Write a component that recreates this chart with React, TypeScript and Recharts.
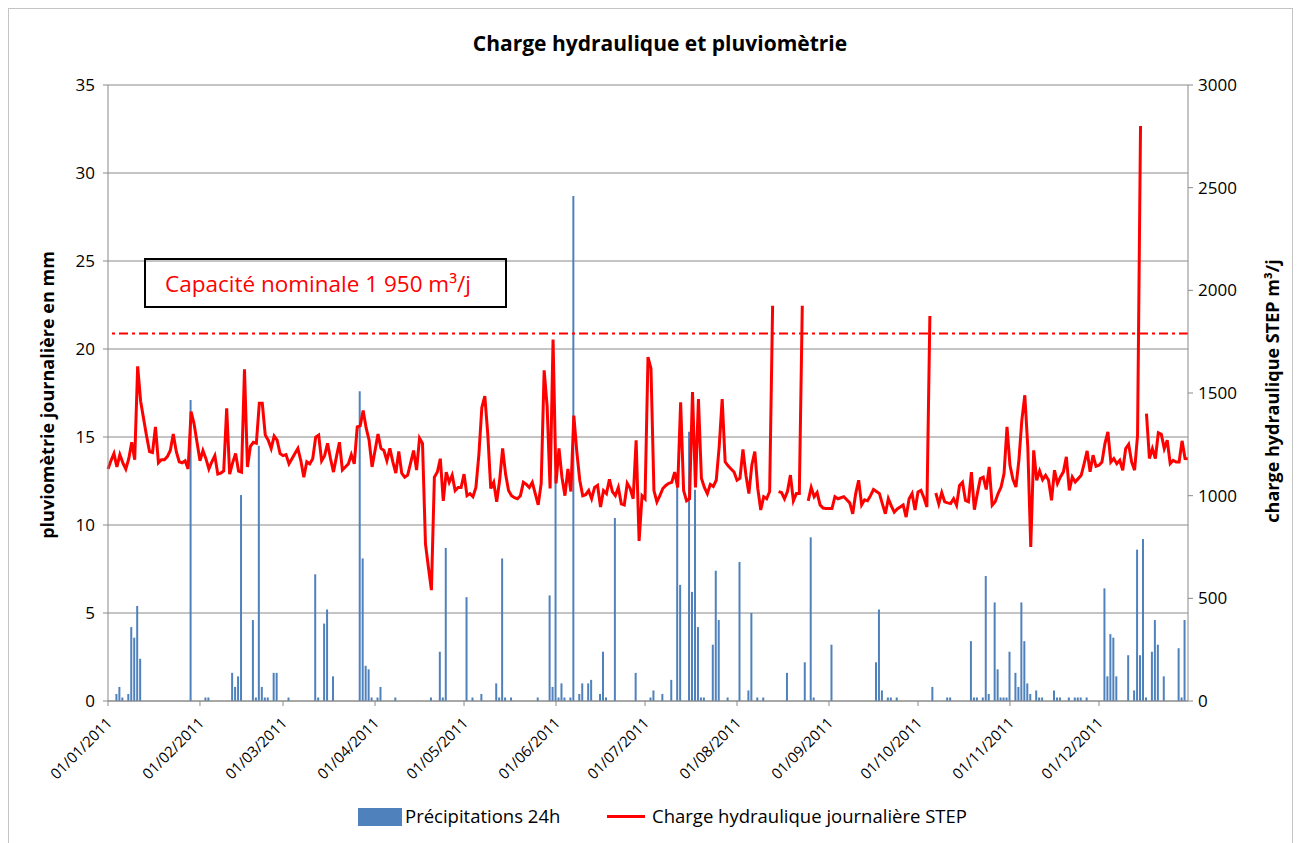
import {
  ComposedChart,
  Bar,
  Line,
  XAxis,
  YAxis,
  CartesianGrid,
  ReferenceLine,
} from "recharts";

// Daily rainfall (bars, left axis) and daily hydraulic load of the STEP
// (red line, right axis) for 2011. Day 0 = 01/01/2011.

const MONTH_TICKS = [0, 31, 59, 90, 120, 151, 181, 212, 243, 273, 304, 334];
const MONTH_LABELS = [
  "01/01/2011", "01/02/2011", "01/03/2011", "01/04/2011", "01/05/2011", "01/06/2011",
  "01/07/2011", "01/08/2011", "01/09/2011", "01/10/2011", "01/11/2011", "01/12/2011",
];

const LEFT_TICKS = [0, 5, 10, 15, 20, 25, 30, 35];
const RIGHT_TICKS = [0, 500, 1000, 1500, 2000, 2500, 3000];

// m³/j, one value per day (null = missing day)
const CHARGE: (number | null)[] = [
  1130, 1170, 1205, 1140, 1200, 1160, 1130, 1180, 1260, 1175,
  1630, 1460, 1375, 1290, 1215, 1210, 1335, 1160, 1175, 1175,
  1190, 1220, 1300, 1215, 1165, 1160, 1170, 1130, 1410, 1350,
  1260, 1170, 1220, 1180, 1130, 1165, 1195, 1105, 1110, 1120,
  1425, 1105, 1160, 1205, 1120, 1115, 1615, 1140, 1240, 1260,
  1255, 1450, 1450, 1295, 1270, 1230, 1290, 1270, 1205, 1195,
  1200, 1155, 1180, 1205, 1230, 1170, 1090, 1165, 1155, 1180,
  1285, 1295, 1170, 1195, 1255, 1180, 1115, 1190, 1260, 1125,
  1140, 1155, 1200, 1155, 1335, 1340, 1415, 1330, 1270, 1140,
  1220, 1300, 1230, 1220, 1170, 1230, 1165, 1110, 1215, 1110,
  1090, 1100, 1160, 1220, 1125, 1280, 1255, 765, 650, 540,
  1090, 1115, 1180, 975, 1115, 1065, 1100, 1025, 1040, 1040,
  1105, 1000, 1010, 995, 1040, 1200, 1430, 1485, 1300, 1035,
  1065, 970, 1075, 1230, 1105, 1025, 1000, 990, 985, 1000,
  1065, 1055, 1040, 1065, 1010, 955, 1060, 1610, 1435, 1035,
  1760, 1060, 1230, 1090, 1000, 1130, 1020, 1390, 1215, 1075,
  1000, 1005, 1025, 985, 1040, 1050, 945, 1025, 1010, 1080,
  1020, 1000, 1040, 960, 955, 1060, 1035, 985, 1270, 780,
  1000, 985, 1675, 1620, 1025, 970, 1000, 1035, 1050, 1060,
  1065, 1115, 1040, 1455, 1025, 975, 985, 1505, 1040, 1470,
  1085, 1040, 1010, 1055, 1045, 1075, 1240, 1470, 1165, 1145,
  1130, 1115, 1075, 1085, 1225, 1100, 1010, 1150, 1215, 1035,
  930, 995, 985, 1020, 1925, null, 1020, 1015, 985, 1020,
  1100, 975, 1010, 1010, 1925, null, 975, 1040, 995, 1015,
  955, 940, 938, 937, 937, 995, 985, 990, 995, 980,
  965, 912, 1010, 1075, 955, 980, 975, 1000, 1030, 1020,
  1010, 960, 912, 985, 950, 920, 935, 945, 955, 896,
  985, 1010, 930, 1018, 1026, 990, 945, 1875, null, 1013,
  960, 1015, 970, 965, 962, 985, 953, 1050, 1065, 977,
  970, 1115, 932, 1010, 1083, 1090, 1030, 1140, 953, 970,
  1010, 1042, 1107, 1335, 1148, 1080, 1042, 1172, 1368, 1489,
  1238, 750, 1221, 1075, 1120, 1078, 1099, 1075, 977, 1124,
  1059, 1091, 1116, 1189, 1026, 1091, 1067, 1083, 1099, 1156,
  1218, 1116, 1197, 1143, 1148, 1164, 1254, 1311, 1164, 1181,
  1156, 1172, 1124, 1229, 1250, 1164, 1124, 1294, 2800, null,
  1400, 1181, 1229, 1181, 1306, 1299, 1229, 1270, 1156, 1172,
  1164, 1164, 1267, 1181, 1180,
];

// rainy days only (day index, mm)
const RAIN_DAYS = [
  3, 4, 5, 7, 8, 9, 10, 11, 28, 33, 34, 42, 43, 44,
  45, 49, 50, 51, 52, 53, 54, 56, 57, 61, 70, 71, 73, 74, 76,
  85, 86, 87, 88, 89, 91, 92, 97,
  109, 112, 113, 114, 121, 123, 126, 131, 132, 133, 134,
  136, 145, 149, 150, 151, 152, 153, 154, 156, 157, 159, 160, 162, 163, 166, 167, 168, 171, 178,
  183, 184, 187, 190, 192, 193, 196, 197, 198, 199, 200, 201, 204, 205, 206, 209, 213, 216, 217, 219, 221,
  229, 235, 237, 238, 244,
  259, 260, 261, 263, 264, 266, 278, 283, 284,
  291, 292, 293, 295, 296, 297, 299, 300, 301, 302, 303, 304, 306, 307, 308, 309, 310, 311, 313, 314, 315,
  319, 320, 321, 324, 326, 327, 328, 330,
  336, 337, 338, 339, 340, 344, 346, 347, 348, 349, 350, 352, 353, 354, 356, 361, 362, 363,
];
const RAIN_MM = [
  0.4, 0.8, 0.2, 0.4, 4.2, 3.6, 5.4, 2.4, 17.1, 0.2, 0.2, 1.6, 0.8, 1.4,
  11.7, 4.6, 0.2, 14.5, 0.8, 0.2, 0.2, 1.6, 1.6, 0.2, 7.2, 0.2, 4.4, 5.2, 1.4,
  17.6, 8.1, 2.0, 1.8, 0.2, 0.2, 0.8, 0.2,
  0.2, 2.8, 0.2, 8.7, 5.9, 0.2, 0.4, 1.0, 0.2, 8.1, 0.2,
  0.2, 0.2, 6.0, 0.8, 12.8, 0.2, 1.0, 0.2, 0.2, 28.7, 0.4, 1.0, 1.0, 1.2, 0.4, 2.8, 0.2, 10.4, 1.6,
  0.2, 0.6, 0.4, 1.2, 12.6, 6.6, 15.3, 6.2, 12.0, 4.2, 0.2, 0.2, 3.2, 7.4, 4.6, 0.2, 7.9, 0.6, 5.0, 0.2, 0.2,
  1.6, 2.2, 9.3, 0.2, 3.2,
  2.2, 5.2, 0.6, 0.2, 0.2, 0.2, 0.8, 0.2, 0.2,
  3.4, 0.2, 0.2, 0.2, 7.1, 0.4, 5.6, 1.8, 0.2, 0.2, 0.2, 2.8, 1.6, 0.8, 5.6, 3.4, 1.0, 0.4, 0.6, 0.2, 0.2,
  0.6, 0.2, 0.2, 0.2, 0.2, 0.2, 0.2, 0.2,
  6.4, 1.4, 3.8, 3.6, 1.4, 2.6, 0.6, 8.6, 2.6, 9.2, 0.2, 2.8, 4.6, 3.2, 1.4, 3.0, 0.2, 4.6,
];

const CAPACITY_LEVEL = 1790; // where the dash-dot line sits on the right axis

const FONT = "'Open Sans', Lato, sans-serif";
const GRID = "#8a8a8a";

const data = CHARGE.map((charge, day) => ({ day, charge, rain: null as number | null }));
RAIN_DAYS.forEach((d, i) => {
  data[d].rain = RAIN_MM[i];
});

function DateTick({ x, y, payload }: { x?: number; y?: number; payload?: { value: number } }) {
  const label = MONTH_LABELS[MONTH_TICKS.indexOf(payload?.value ?? 0)];
  return (
    <g transform={`translate(${(x ?? 0) + 5},${(y ?? 0) + 16})`}>
      <text textAnchor="end" transform="rotate(-45)" fontSize={15} fill="#000" fontFamily={FONT}>
        {label}
      </text>
    </g>
  );
}

export default function App() {
  return (
    <div style={{ position: "relative", width: 1300, height: 843, background: "#fff", fontFamily: FONT }}>
      <style>{"body{margin:0}"}</style>
      <div
        style={{
          position: "absolute",
          left: 8,
          top: 8,
          width: 1283,
          height: 845,
          border: "1px solid #c4c4c4",
        }}
      />
      <div
        style={{
          position: "absolute",
          left: 0,
          width: 1320,
          top: 29,
          textAlign: "center",
          fontWeight: 700,
          fontSize: 21,
        }}
      >
        Charge hydraulique et pluviomètrie
      </div>

      <ComposedChart
        width={1300}
        height={843}
        data={data}
        margin={{ top: 85, right: 0, bottom: 0, left: 0 }}
        style={{ position: "absolute", left: 0, top: 0 }}
      >
        <CartesianGrid yAxisId="left" vertical={false} stroke={GRID} strokeWidth={1} />
        <XAxis
          dataKey="day"
          type="number"
          domain={[0, 364]}
          ticks={MONTH_TICKS}
          interval={0}
          height={142}
          tickSize={5}
          tick={<DateTick />}
          axisLine={{ stroke: GRID }}
          tickLine={{ stroke: GRID }}
        />
        <YAxis
          yAxisId="left"
          domain={[0, 35]}
          ticks={LEFT_TICKS}
          width={108}
          tickSize={5}
          tickMargin={8}
          tick={{ fill: "#000", fontSize: 17, fontFamily: FONT }}
          axisLine={{ stroke: GRID }}
          tickLine={{ stroke: GRID }}
        />
        <YAxis
          yAxisId="right"
          orientation="right"
          domain={[0, 3000]}
          ticks={RIGHT_TICKS}
          width={112}
          tickSize={5}
          tickMargin={5}
          tick={{ fill: "#000", fontSize: 17, fontFamily: FONT, textAnchor: "start" }}
          axisLine={{ stroke: GRID }}
          tickLine={{ stroke: GRID }}
        />
        <Bar yAxisId="left" dataKey="rain" fill="#4f81bd" barSize={2} isAnimationActive={false} />
        <Line
          yAxisId="right"
          type="linear"
          dataKey="charge"
          stroke="#ff0000"
          strokeWidth={3}
          dot={false}
          connectNulls={false}
          isAnimationActive={false}
        />
        <ReferenceLine
          yAxisId="right"
          y={CAPACITY_LEVEL}
          stroke="#ff0000"
          strokeWidth={2}
          strokeDasharray="9 4 3 4"
        />
      </ComposedChart>

      <div
        style={{
          position: "absolute",
          left: 47,
          top: 395,
          transform: "translate(-50%, -50%) rotate(-90deg)",
          whiteSpace: "nowrap",
          fontWeight: 700,
          fontSize: 18,
        }}
      >
        pluviomètrie journalière en mm
      </div>
      <div
        style={{
          position: "absolute",
          left: 1272,
          top: 391,
          transform: "translate(-50%, -50%) rotate(-90deg)",
          whiteSpace: "nowrap",
          fontWeight: 700,
          fontSize: 18,
        }}
      >
        charge hydraulique STEP m³/j
      </div>

      <div
        style={{
          position: "absolute",
          left: 144,
          top: 258,
          width: 363,
          height: 50,
          border: "2px solid #000",
          color: "#ff0000",
          fontSize: 22.5,
          lineHeight: "47px",
          paddingLeft: 19,
          boxSizing: "border-box",
          whiteSpace: "nowrap",
        }}
      >
        Capacité nominale 1 950 m³/j
      </div>

      <div style={{ position: "absolute", left: 358, top: 808, width: 44, height: 18, background: "#4f81bd" }} />
      <div style={{ position: "absolute", left: 405, top: 803, fontSize: 18.5 }}>Précipitations 24h</div>
      <div style={{ position: "absolute", left: 607, top: 815, width: 38, height: 3, background: "#ff0000" }} />
      <div style={{ position: "absolute", left: 652, top: 803, fontSize: 18.5 }}>Charge hydraulique journalière STEP</div>
    </div>
  );
}
